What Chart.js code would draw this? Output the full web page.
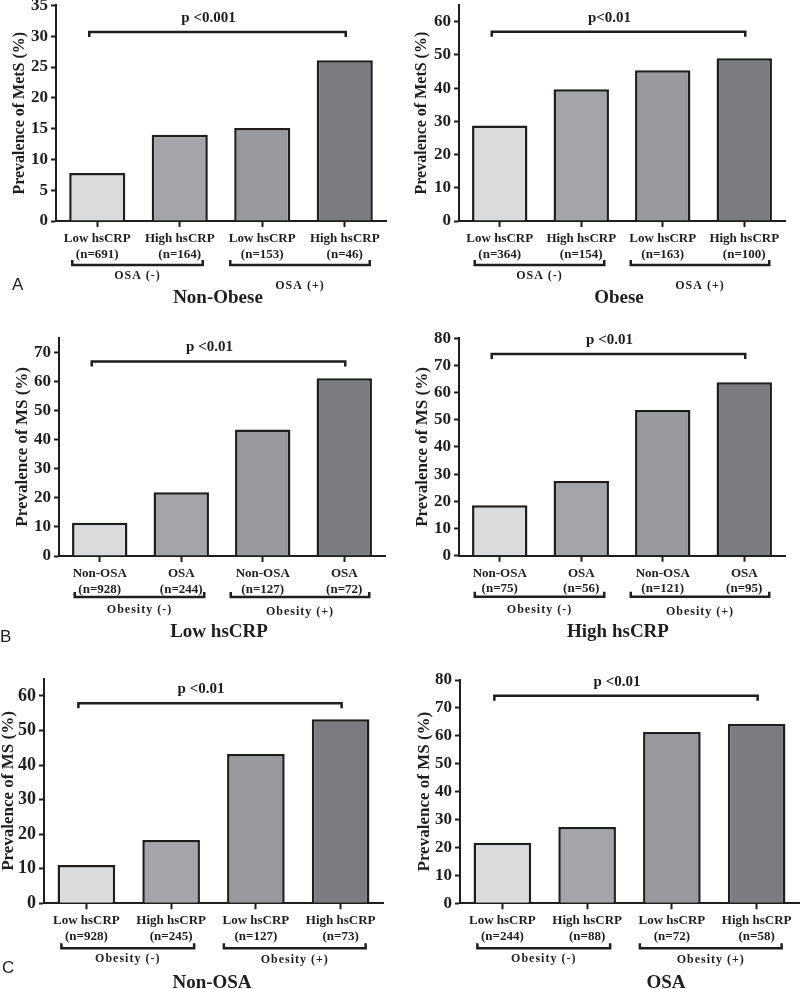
<!DOCTYPE html>
<html>
<head>
<meta charset="utf-8">
<script src="https://cdn.jsdelivr.net/npm/chart.js@4.4.1/dist/chart.umd.min.js"></script>
<style>
html, body { margin: 0; padding: 0; background: #fff; }
#wrap { position: relative; width: 800px; height: 989px; overflow: hidden; }
#wrap canvas { position: absolute; }
</style>
</head>
<body>
<div id="wrap"></div>
<script>
// category names
const catHs = ['Low hsCRP', 'High hsCRP', 'Low hsCRP', 'High hsCRP'];
const catOsa = ['Non-OSA', 'OSA', 'Non-OSA', 'OSA'];
const groupOsa = ['OSA (-)', 'OSA (+)'];
const groupObesity = ['Obesity (-)', 'Obesity (+)'];

// sample sizes and prevalence (%) per panel
const nNonObese = [691, 164, 153, 46];
const prevNonObese = [7.8, 14.0, 15.1, 26.1];
const nObese = [364, 154, 163, 100];
const prevObese = [28.8, 39.7, 45.4, 49.0];
const nLowHs = [928, 244, 127, 72];
const prevLowHs = [11.4, 21.9, 43.5, 61.1];
const nHighHs = [75, 56, 121, 95];
const prevHighHs = [18.6, 27.5, 53.6, 63.8];
const nNonOsa = [928, 245, 127, 73];
const prevNonOsa = [11.1, 18.3, 43.2, 53.3];
const nOsa = [244, 88, 72, 58];
const prevOsa = [21.7, 27.3, 61.4, 64.2];

// y axis ranges
const yMaxes = [35, 65, 75, 80, 65, 80];
const ySteps = [5, 10, 10, 10, 10, 10];
// level of the p-value bracket, in axis units
const sigLevels = [30.7, 57, 66.8, 74.2, 57.9, 74.4];
const pTexts = ['p <0.001', 'p<0.01', 'p <0.01', 'p <0.01', 'p <0.01', 'p <0.01'];

const ink = '#1e1e1e';
const barFill = ['#dadbdd', '#a4a5a9', '#999a9e', '#7b7c80'];
const serif = '"Liberation Serif", "Times New Roman", serif';

const panels = [
  { x: 0, y: 0, w: 400, h: 330, area: [56, 5.4, 386, 221], cats: catHs, n: nNonObese, vals: prevNonObese,
    groups: groupOsa, yTitle: 'Prevalence of MetS (%)', ytSize: 16, ytPad: 10, tickSize: 17,
    gb: 44, gl: [55, 65], title: 'Non-Obese', tx: 218, ty: 298, letter: 'A', lx: 12, ly: 285 },
  { x: 400, y: 0, w: 400, h: 330, area: [59, 5.2, 385, 221], cats: catHs, n: nObese, vals: prevObese,
    groups: groupOsa, yTitle: 'Prevalence of MetS (%)', ytSize: 16, ytPad: 12, tickSize: 17,
    gb: 44, gl: [55, 65], title: 'Obese', tx: 219, ty: 298 },
  { x: 0, y: 330, w: 400, h: 325, area: [59, 7.7, 385, 226], cats: catOsa, n: nLowHs, vals: prevLowHs,
    groups: groupObesity, yTitle: 'Prevalence of MS (%)', ytSize: 17, ytPad: 12, tickSize: 17,
    gb: 41, gl: [54, 56], title: 'Low hsCRP', tx: 219, ty: 302, letter: 'B', lx: 0, ly: 307 },
  { x: 400, y: 330, w: 400, h: 325, area: [59, 8.3, 385, 225.7], cats: catOsa, n: nHighHs, vals: prevHighHs,
    groups: groupObesity, yTitle: 'Prevalence of MS (%)', ytSize: 17, ytPad: 12, tickSize: 17,
    gb: 41, gl: [54, 56], title: 'High hsCRP', tx: 218, ty: 302 },
  { x: 0, y: 655, w: 400, h: 334, area: [44, 23.7, 383, 248.3], cats: catHs, n: nNonOsa, vals: prevNonOsa,
    groups: groupObesity, yTitle: 'Prevalence of MS (%)', ytSize: 17, ytPad: -2, tickSize: 18,
    gb: 45, gl: [56, 57], title: 'Non-OSA', tx: 212, ty: 328, letter: 'C', lx: 2, ly: 313 },
  { x: 400, y: 655, w: 400, h: 334, area: [60, 25, 399, 248.3], cats: catHs, n: nOsa, vals: prevOsa,
    groups: groupObesity, yTitle: 'Prevalence of MS (%)', ytSize: 17, ytPad: 14, tickSize: 17,
    gb: 45, gl: [56, 57], title: 'OSA', tx: 266, ty: 328 }
];

// brackets, group names, panel title and letter
function annotPlugin(p, sig, pText) {
  return {
    id: 'annot',
    afterDraw(chart) {
      const ctx = chart.ctx, xs = chart.scales.x, ys = chart.scales.y, ca = chart.chartArea;
      const c = i => xs.getPixelForValue(i);
      ctx.save();
      ctx.strokeStyle = ink;
      ctx.fillStyle = ink;
      ctx.lineWidth = 2.5;
      ctx.textAlign = 'center';
      ctx.textBaseline = 'middle';

      const yb = ys.getPixelForValue(sig);
      const x1 = c(0) - 8, x2 = c(3) + 1;
      ctx.beginPath();
      ctx.moveTo(x1, yb + 5); ctx.lineTo(x1, yb); ctx.lineTo(x2, yb); ctx.lineTo(x2, yb + 5);
      ctx.stroke();
      ctx.font = 'bold 15px ' + serif;
      ctx.fillText(pText, (x1 + x2) / 2 - 9, yb - 14);

      const gy = ca.bottom + p.gb;
      [[c(0) - 25, c(1) + 23], [c(2) - 32, c(3) + 25]].forEach((seg, g) => {
        const a = seg[0], b = seg[1];
        ctx.beginPath();
        ctx.moveTo(a, gy - 5); ctx.lineTo(a, gy); ctx.lineTo(b, gy); ctx.lineTo(b, gy - 5);
        ctx.stroke();
        ctx.font = 'bold 12px ' + serif;
        ctx.letterSpacing = '1px';
        ctx.fillText(p.groups[g], (a + b) / 2, ca.bottom + p.gl[g]);
        ctx.letterSpacing = '0px';
      });

      ctx.font = 'bold 19px ' + serif;
      ctx.fillText(p.title, p.tx, p.ty);

      if (p.letter) {
        ctx.font = '17px "Liberation Sans", Arial, sans-serif';
        ctx.textAlign = 'left';
        ctx.fillText(p.letter, p.lx, p.ly);
      }
      ctx.restore();
    }
  };
}

const wrap = document.getElementById('wrap');
panels.forEach((p, k) => {
  const cv = document.createElement('canvas');
  cv.width = p.w;
  cv.height = p.h;
  cv.style.left = p.x + 'px';
  cv.style.top = p.y + 'px';
  wrap.appendChild(cv);

  new Chart(cv, {
    type: 'bar',
    data: {
      labels: p.cats.map((c, i) => [c, '(n=' + p.n[i] + ')']),
      datasets: [{
        data: p.vals,
        backgroundColor: barFill,
        borderColor: ink,
        borderWidth: 2.5,
        borderSkipped: 'start',
        barPercentage: 0.68,
        categoryPercentage: 1
      }]
    },
    options: {
      responsive: false,
      animation: false,
      events: [],
      layout: { padding: { left: 0, top: p.area[1], right: p.w - p.area[2], bottom: 0 } },
      plugins: { legend: { display: false }, tooltip: { enabled: false } },
      scales: {
        x: {
          grid: { drawOnChartArea: false, offset: false, tickLength: 6, tickWidth: 2, tickColor: ink, color: ink },
          border: { color: ink, width: 2 },
          ticks: { color: ink, font: { family: serif, weight: 'bold', size: 13 }, padding: 4, maxRotation: 0, autoSkip: false },
          afterFit: s => { s.height = p.h - p.area[3]; s.paddingLeft = 0; s.paddingRight = 0; }
        },
        y: {
          min: 0,
          max: yMaxes[k],
          grid: { drawOnChartArea: false, tickLength: 5, tickWidth: 2, tickColor: ink, color: ink },
          border: { color: ink, width: 2 },
          ticks: { stepSize: ySteps[k], color: ink, padding: 3, font: { family: serif, weight: 'bold', size: p.tickSize } },
          afterBuildTicks: s => {
            const t = [];
            for (let v = 0; v <= yMaxes[k]; v += ySteps[k]) t.push({ value: v });
            s.ticks = t;
          },
          afterFit: s => { s.width = p.area[0]; s.paddingTop = 0; s.paddingBottom = 0; },
          title: {
            display: true,
            text: p.yTitle,
            color: ink,
            font: { family: serif, weight: 'bold', size: p.ytSize },
            padding: { top: p.ytPad, bottom: 0 }
          }
        }
      }
    },
    plugins: [annotPlugin(p, sigLevels[k], pTexts[k])]
  });
});
</script>
</body>
</html>
